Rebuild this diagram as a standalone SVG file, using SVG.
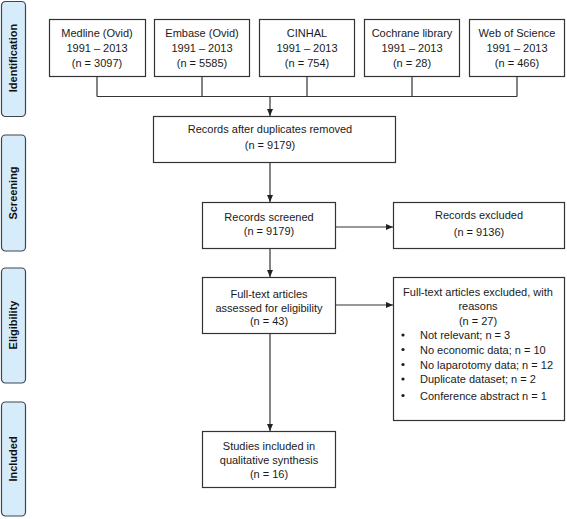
<svg xmlns="http://www.w3.org/2000/svg" width="567" height="519" viewBox="0 0 567 519">
<style>
.box{fill:#fff;stroke:#333;stroke-width:1.2}
.side{fill:#d7ecfb;stroke:#3c4650;stroke-width:1.2}
.t{font-family:"Liberation Sans",Arial,sans-serif;font-size:11px;fill:#1a1a1a;text-anchor:middle}
.tl{font-family:"Liberation Sans",Arial,sans-serif;font-size:11px;fill:#1a1a1a}
.s{font-family:"Liberation Sans",Arial,sans-serif;font-size:11px;font-weight:bold;fill:#111;text-anchor:middle}
.c{fill:none;stroke:#333;stroke-width:1.2}
</style>
<defs>
<marker id="ah" markerWidth="8" markerHeight="8" refX="7" refY="4" orient="auto" markerUnits="userSpaceOnUse">
<path d="M0,1 L7,4 L0,7 Z" fill="#222"/>
</marker>
</defs>
<rect width="567" height="519" fill="#fff"/>

<g id="stage-identification">
<rect class="side" x="1.5" y="1.5" width="24" height="115" rx="4"/>
<text class="s" transform="translate(17,58) rotate(-90)">Identification</text>
</g>
<g id="stage-screening">
<rect class="side" x="1.5" y="135" width="24" height="116" rx="4"/>
<text class="s" transform="translate(17,193) rotate(-90)">Screening</text>
</g>
<g id="stage-eligibility">
<rect class="side" x="1.5" y="268" width="24" height="115" rx="4"/>
<text class="s" transform="translate(17,325) rotate(-90)">Eligibility</text>
</g>
<g id="stage-included">
<rect class="side" x="1.5" y="402" width="24" height="114" rx="4"/>
<text class="s" transform="translate(17,459) rotate(-90)">Included</text>
</g>

<g id="medline">
<rect class="box" x="49.5" y="19.5" width="96" height="57"/>
<text class="t" x="97" y="37">Medline (Ovid)</text>
<text class="t" x="97" y="52">1991 – 2013</text>
<text class="t" x="97" y="67">(n = 3097)</text>
</g>
<g id="embase">
<rect class="box" x="154.5" y="19.5" width="95" height="57"/>
<text class="t" x="202" y="37">Embase (Ovid)</text>
<text class="t" x="202" y="52">1991 – 2013</text>
<text class="t" x="202" y="67">(n = 5585)</text>
</g>
<g id="cinhal">
<rect class="box" x="259.5" y="19.5" width="95" height="57"/>
<text class="t" x="307" y="37">CINHAL</text>
<text class="t" x="307" y="52">1991 – 2013</text>
<text class="t" x="307" y="67">(n = 754)</text>
</g>
<g id="cochrane">
<rect class="box" x="364.5" y="19.5" width="95" height="57"/>
<text class="t" x="412" y="37">Cochrane library</text>
<text class="t" x="412" y="52">1991 – 2013</text>
<text class="t" x="412" y="67">(n = 28)</text>
</g>
<g id="wos">
<rect class="box" x="469.5" y="19.5" width="95" height="57"/>
<text class="t" x="517" y="37">Web of Science</text>
<text class="t" x="517" y="52">1991 – 2013</text>
<text class="t" x="517" y="67">(n = 466)</text>
</g>

<g id="duplicates">
<rect class="box" x="153.5" y="116.5" width="242" height="46"/>
<text class="t" x="270" y="133">Records after duplicates removed</text>
<text class="t" x="270" y="149">(n = 9179)</text>
</g>
<g id="screened">
<rect class="box" x="202.5" y="202.5" width="133" height="46"/>
<text class="t" x="269" y="220.5">Records screened</text>
<text class="t" x="269" y="234.5">(n =  9179)</text>
</g>
<g id="excluded">
<rect class="box" x="393.5" y="202.5" width="171" height="46"/>
<text class="t" x="479" y="219">Records excluded</text>
<text class="t" x="479" y="235.5">(n = 9136)</text>
</g>
<g id="fulltext">
<rect class="box" x="202.5" y="277.5" width="133" height="56"/>
<text class="t" x="269" y="298">Full-text articles</text>
<text class="t" x="269" y="311.5">assessed for eligibility</text>
<text class="t" x="269" y="325">(n = 43)</text>
</g>
<g id="fulltext-excluded">
<rect class="box" x="393.5" y="277.5" width="171" height="143"/>
<text class="t" x="478" y="295.5">Full-text articles excluded, with</text>
<text class="t" x="478" y="310">reasons</text>
<text class="t" x="478" y="324.5">(n = 27)</text>
<g class="tl">
<circle cx="403" cy="335" r="1.6" fill="#1a1a1a"/>
<text class="tl" x="420" y="339">Not relevant; n = 3</text>
<circle cx="403" cy="349.5" r="1.6" fill="#1a1a1a"/>
<text class="tl" x="420" y="353.5">No economic data; n = 10</text>
<circle cx="403" cy="364.5" r="1.6" fill="#1a1a1a"/>
<text class="tl" x="420" y="368.5">No laparotomy data; n = 12</text>
<circle cx="403" cy="379" r="1.6" fill="#1a1a1a"/>
<text class="tl" x="420" y="383">Duplicate dataset; n = 2</text>
<circle cx="403" cy="395.5" r="1.6" fill="#1a1a1a"/>
<text class="tl" x="420" y="399.5">Conference abstract n = 1</text>
</g>
</g>
<g id="included">
<rect class="box" x="202.5" y="431.5" width="133" height="56"/>
<text class="t" x="269" y="449.5">Studies included in</text>
<text class="t" x="269" y="463.5">qualitative synthesis</text>
<text class="t" x="269" y="478">(n = 16)</text>
</g>

<g id="connectors">
<path class="c" d="M97,77 V96.5 M202,77 V96.5 M307,77 V96.5 M412,77 V96.5 M517,77 V96.5 M97,96.5 H517"/>
<path class="c" d="M270,96.5 V116" marker-end="url(#ah)"/>
<path class="c" d="M270,163 V202" marker-end="url(#ah)"/>
<path class="c" d="M336,227 H393" marker-end="url(#ah)"/>
<path class="c" d="M270,249 V277" marker-end="url(#ah)"/>
<path class="c" d="M336,305 H393" marker-end="url(#ah)"/>
<path class="c" d="M270,334 V431" marker-end="url(#ah)"/>
</g>
</svg>
